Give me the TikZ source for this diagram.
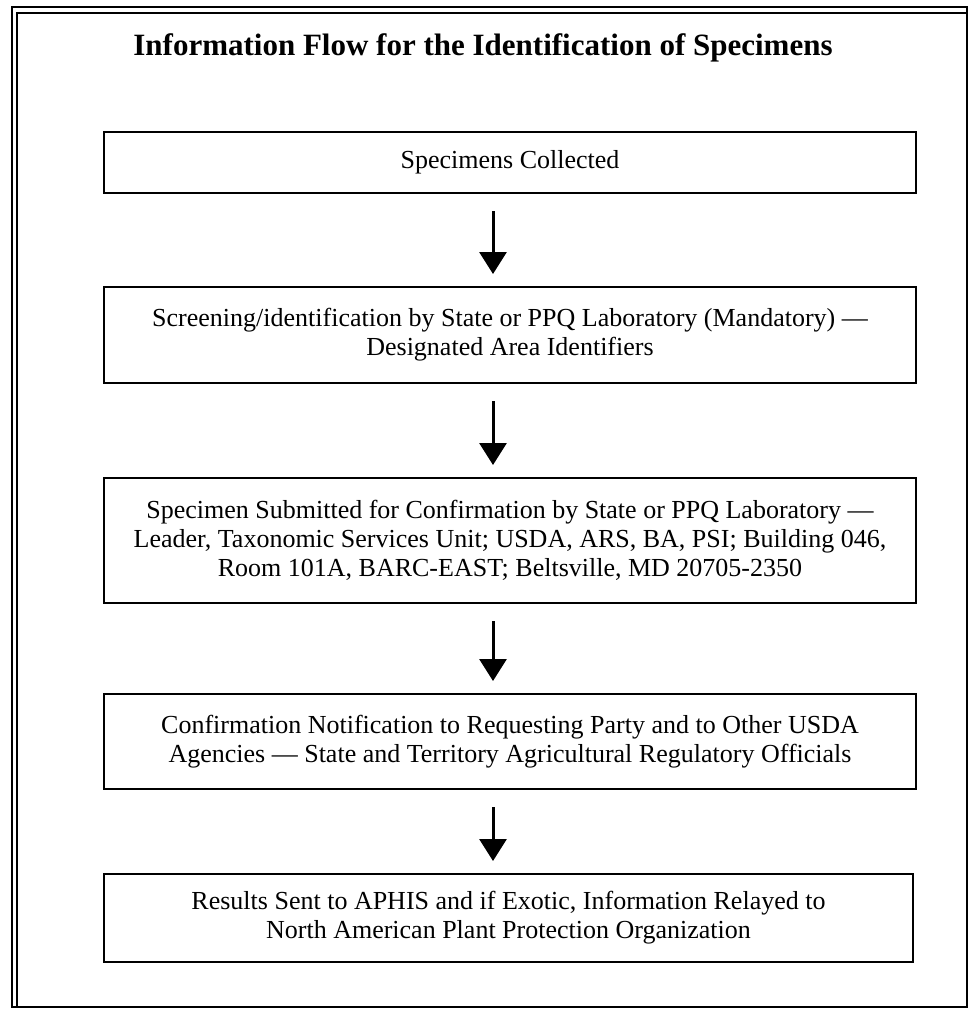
\documentclass[tikz,border=0pt]{standalone}
\usepackage{fontspec}
\setmainfont{Liberation Serif}
\usetikzlibrary{arrows.meta,calc}
\tikzset{box/.style={draw, line width=1pt, minimum width=406pt, align=center,
  inner sep=0pt, font=\fontsize{13}{14.5}\selectfont},
  flow/.style={draw, -{Triangle[width=13.5pt,length=11pt]}, line width=1.5pt,
  shorten <=8.5pt, shorten >=6pt}}

\begin{document}
\begin{tikzpicture}[x=0.5pt,y=-0.5pt]
\useasboundingbox (0,0) rectangle (968,1009);
\draw[line width=1pt] (12,7) rectangle (967,1007);
\draw[line width=1pt] (17,13) rectangle (967,1007);

\node[font=\fontsize{15.5}{17}\selectfont\bfseries] (title) at (483,48) {Information Flow for the Identification of Specimens};

\node[box, minimum height=30.5pt] (b1) at (510,162.5) {Specimens Collected};
\node[box, minimum height=48pt] (b2) at (510,335) {Screening/identification by State or PPQ Laboratory (Mandatory) ---\\ Designated Area Identifiers};
\node[box, minimum height=62.5pt] (b3) at (510,540.5) {Specimen Submitted for Confirmation by State or PPQ Laboratory ---\\ Leader, Taxonomic Services Unit; USDA, ARS, BA, PSI; Building 046,\\ Room 101A, BARC-EAST; Beltsville, MD 20705-2350};
\node[box, minimum height=47.5pt] (b4) at (510,741.5) {Confirmation Notification to Requesting Party and to Other USDA\\ Agencies --- State and Territory Agricultural Regulatory Officials};
\node[box, minimum height=44pt, minimum width=404.5pt] (b5) at (508.5,918) {Results Sent to APHIS and if Exotic, Information Relayed to\\ North American Plant Protection Organization};

\path[flow] ([xshift=-8.5pt]b1.south) -- ([xshift=-8.5pt]b2.north);
\path[flow] ([xshift=-8.5pt]b2.south) -- ([xshift=-8.5pt]b3.north);
\path[flow] ([xshift=-8.5pt]b3.south) -- ([xshift=-8.5pt]b4.north);
\path[flow] ([xshift=-8.5pt]b4.south) -- ([xshift=-8.5pt]b4.south |- b5.north);

\end{tikzpicture}
\end{document}
